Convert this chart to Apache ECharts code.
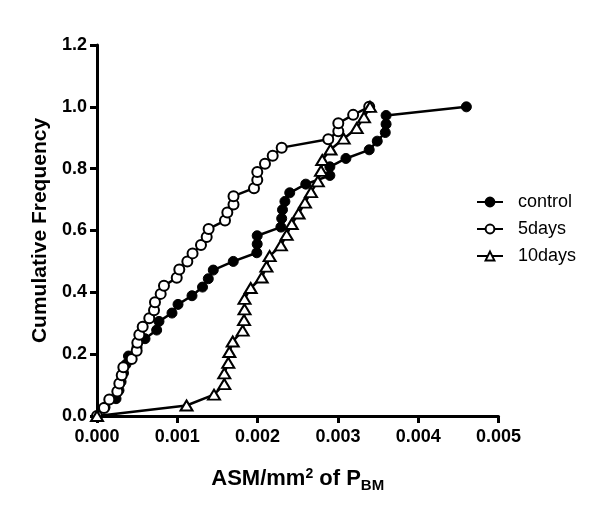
<!DOCTYPE html>
<html>
<head>
<meta charset="utf-8">
<script src="https://cdn.jsdelivr.net/npm/echarts@6/dist/echarts.min.js"></script>
<style>
html,body{margin:0;padding:0;background:#fff;}
#chart{width:600px;height:522px;}
</style>
</head>
<body>
<div id="chart"></div>
<script>
// Series names
const seriesNames = ['control', '5days', '10days'];

// control (filled circles)
const controlX = [0, 0.000100, 0.000237, 0.000274, 0.000300, 0.000330, 0.000361, 0.000392, 0.000498, 0.000598,
  0.000743, 0.000772, 0.000934, 0.001009, 0.001183, 0.001314, 0.001386, 0.001448, 0.001697, 0.001990,
  0.001995, 0.001995, 0.002290, 0.002300, 0.002310, 0.002340, 0.002400, 0.002600, 0.002900, 0.002900,
  0.003100, 0.003390, 0.003490, 0.003590, 0.003600, 0.003600, 0.004600];
const controlY = [0, 0.028, 0.056, 0.083, 0.111, 0.139, 0.167, 0.194, 0.222, 0.250,
  0.278, 0.306, 0.333, 0.361, 0.389, 0.417, 0.444, 0.472, 0.500, 0.528,
  0.556, 0.583, 0.611, 0.639, 0.667, 0.694, 0.722, 0.750, 0.778, 0.806,
  0.833, 0.861, 0.889, 0.917, 0.944, 0.972, 1.000];

// 5days (open circles)
const days5X = [0, 0.000087, 0.000153, 0.000253, 0.000278, 0.000308, 0.000328, 0.000432, 0.000494, 0.000502,
  0.000527, 0.000569, 0.000651, 0.000710, 0.000722, 0.000793, 0.000834, 0.000993, 0.001025, 0.001125,
  0.001190, 0.001295, 0.001366, 0.001390, 0.001594, 0.001623, 0.001700, 0.001700, 0.001955, 0.001996,
  0.001996, 0.002092, 0.002188, 0.002300, 0.002880, 0.003005, 0.003005, 0.003190, 0.003390];
const days5Y = [0, 0.026, 0.053, 0.079, 0.105, 0.132, 0.158, 0.184, 0.211, 0.237,
  0.263, 0.289, 0.316, 0.342, 0.368, 0.395, 0.421, 0.447, 0.474, 0.500,
  0.526, 0.553, 0.579, 0.605, 0.632, 0.658, 0.684, 0.711, 0.737, 0.763,
  0.789, 0.816, 0.842, 0.868, 0.895, 0.921, 0.947, 0.974, 1.000];

// 10days (open triangles)
const days10X = [0, 0.001115, 0.001457, 0.001585, 0.001585, 0.001635, 0.001648, 0.001690, 0.001814, 0.001831,
  0.001837, 0.001837, 0.001914, 0.002051, 0.002110, 0.002150, 0.002290, 0.002362, 0.002425, 0.002510,
  0.002590, 0.002665, 0.002750, 0.002790, 0.002805, 0.002908, 0.003072, 0.003234, 0.003325, 0.003400];
const days10Y = [0, 0.034, 0.069, 0.103, 0.138, 0.172, 0.207, 0.241, 0.276, 0.310,
  0.345, 0.379, 0.414, 0.448, 0.483, 0.517, 0.552, 0.586, 0.621, 0.655,
  0.690, 0.724, 0.759, 0.793, 0.828, 0.862, 0.897, 0.931, 0.966, 1.000];

// Axes
const xAxisRange = {min: 0, max: 0.005, interval: 0.001};
const yAxisRange = {min: 0, max: 1.2, interval: 0.2};
const yAxisTitle = 'Cumulative Frequency';

function zip(xs, ys) { return xs.map((x, i) => [x, ys[i]]); }

const FONT = '"Liberation Sans", Arial, Helvetica, sans-serif';
const chart = echarts.init(document.getElementById('chart'), null, {renderer: 'canvas'});

const lineStyle = {color: '#000', width: 2.5};

chart.setOption({
  backgroundColor: '#fff',
  animation: false,
  grid: {left: 97, right: 101.5, top: 45, bottom: 106},
  legend: {
    orient: 'vertical',
    left: 471,
    top: 188,
    itemWidth: 26,
    itemHeight: 11,
    itemGap: 9,
    data: seriesNames,
    textStyle: {fontFamily: FONT, fontSize: 18, color: '#000', lineHeight: 18, padding: [0, 0, 0, 10]}
  },
  xAxis: {
    type: 'value',
    min: xAxisRange.min, max: xAxisRange.max, interval: xAxisRange.interval,
    name: '{a|ASM/mm}{sup|2}{a| of P}{sub|BM}',
    nameLocation: 'middle',
    nameGap: 48,
    nameTextStyle: {
      rich: {
        a: {fontFamily: FONT, fontWeight: 'bold', fontSize: 22, color: '#000', lineHeight: 30, verticalAlign: 'middle'},
        sup: {fontFamily: FONT, fontWeight: 'bold', fontSize: 14, color: '#000', lineHeight: 30, verticalAlign: 'top', padding: [3, 0, 0, 0]},
        sub: {fontFamily: FONT, fontWeight: 'bold', fontSize: 15, color: '#000', lineHeight: 30, verticalAlign: 'bottom', padding: [0, 0, 1, 0]}
      }
    },
    axisLine: {show: true, onZero: false, lineStyle: {color: '#000', width: 3}},
    axisTick: {show: true, inside: false, length: 7, lineStyle: {color: '#000', width: 3}},
    axisLabel: {fontFamily: FONT, fontWeight: 'bold', fontSize: 18, color: '#000', margin: 12,
      formatter: v => v.toFixed(3)},
    splitLine: {show: false}
  },
  yAxis: {
    type: 'value',
    min: yAxisRange.min, max: yAxisRange.max, interval: yAxisRange.interval,
    name: yAxisTitle,
    nameLocation: 'middle',
    nameGap: 46,
    nameTextStyle: {fontFamily: FONT, fontWeight: 'bold', fontSize: 21, color: '#000'},
    axisLine: {show: true, onZero: false, lineStyle: {color: '#000', width: 3}},
    axisTick: {show: true, inside: false, length: 7, lineStyle: {color: '#000', width: 3}},
    axisLabel: {fontFamily: FONT, fontWeight: 'bold', fontSize: 18, color: '#000', margin: 10,
      formatter: v => v.toFixed(1)},
    splitLine: {show: false}
  },
  series: [
    {
      name: seriesNames[0], type: 'line', data: zip(controlX, controlY),
      symbol: 'circle', symbolSize: 10, showAllSymbol: true, clip: false,
      lineStyle: lineStyle,
      itemStyle: {color: '#000', borderColor: '#000', borderWidth: 1}
    },
    {
      name: seriesNames[1], type: 'line', data: zip(days5X, days5Y),
      symbol: 'circle', symbolSize: 10, showAllSymbol: true, clip: false,
      lineStyle: lineStyle,
      itemStyle: {color: '#fff', borderColor: '#000', borderWidth: 2}
    },
    {
      name: seriesNames[2], type: 'line', data: zip(days10X, days10Y),
      symbol: 'triangle', symbolSize: [12, 10], showAllSymbol: true, clip: false,
      lineStyle: lineStyle,
      itemStyle: {color: '#fff', borderColor: '#000', borderWidth: 2}
    }
  ]
});
</script>
</body>
</html>
